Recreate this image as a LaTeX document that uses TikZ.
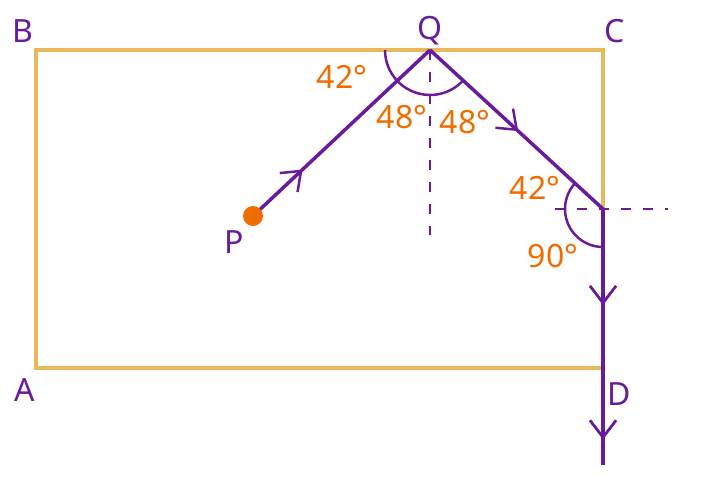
\documentclass[tikz,border=0pt]{standalone}
\usepackage{fontspec}
\setmainfont{Noto Sans}
\usetikzlibrary{arrows.meta,decorations.markings}
\definecolor{ray}{RGB}{106,27,154}
\definecolor{ang}{RGB}{239,108,0}
\definecolor{slab}{RGB}{232,185,90}
\tikzset{
  lbl/.style={text=ray,font=\fontsize{32}{36}\selectfont,inner sep=0pt},
  deg/.style={text=ang,font=\fontsize{32}{36}\selectfont,inner sep=0pt},
  beam/.style={ray,line width=3.5pt},
  normal/.style={ray,line width=1.5pt,dash pattern=on 10pt off 12pt},
  angarc/.style={ray,line width=2.5pt},
  tipat/.style={postaction=decorate,decoration={markings,
      mark=at position #1 with {\arrow[line width=2.5pt]{Straight Barb[length=17pt,width=26pt]}}}}
}
\begin{document}
\begin{tikzpicture}[x=1pt,y=-1pt]
    \useasboundingbox (0,0) rectangle (720,480);
    \coordinate (A) at (36,368);
    \coordinate (B) at (36,50);
    \coordinate (C) at (603,50);
    \coordinate (Q) at (430,50);
    \coordinate (P) at (253,216);
    \coordinate (R) at (603,209);
    \coordinate (E) at (603,465);
    \coordinate (N1) at (430,235);
    \coordinate (H0) at (555,209);
    \coordinate (H1) at (668,209);
    % glass block
    \draw[slab,line width=3.5pt] (A) rectangle (603,50);
    % normals
    \draw[normal] (Q) -- (N1);
    \draw[normal] (H0) -- (H1);
    % angle marks
    \draw[angarc] (Q) ++(180:45) arc (180:136.8:45);
    \draw[angarc] (Q) ++(136.8:45) arc (136.8:42.6:45);
    \draw[angarc] (R) ++(222.6:38) arc (222.6:90:38);
    % ray path
    \draw[beam,tipat=0.28] (P) -- (Q);
    \draw[beam,tipat=0.51] (Q) -- (R);
    \draw[beam,tipat=0.375,tipat=0.9] (R) -- (E);
    \fill[ang] (P) circle (10pt);
    % labels
    \node[lbl] (tB) at (23,31) {B};
    \node[lbl] (tQ) at (430,31) {Q};
    \node[lbl] (tC) at (615,31) {C};
    \node[lbl] (tA) at (25,390) {A};
    \node[lbl] (tP) at (234,242) {P};
    \node[lbl] (tD) at (619,394) {D};
    \node[deg] (a1) at (342,77) {42°};
    \node[deg] (a2) at (402,117) {48°};
    \node[deg] (a3) at (465,122) {48°};
    \node[deg] (a4) at (535,188) {42°};
    \node[deg] (a5) at (553,256) {90°};
\end{tikzpicture}
\end{document}
